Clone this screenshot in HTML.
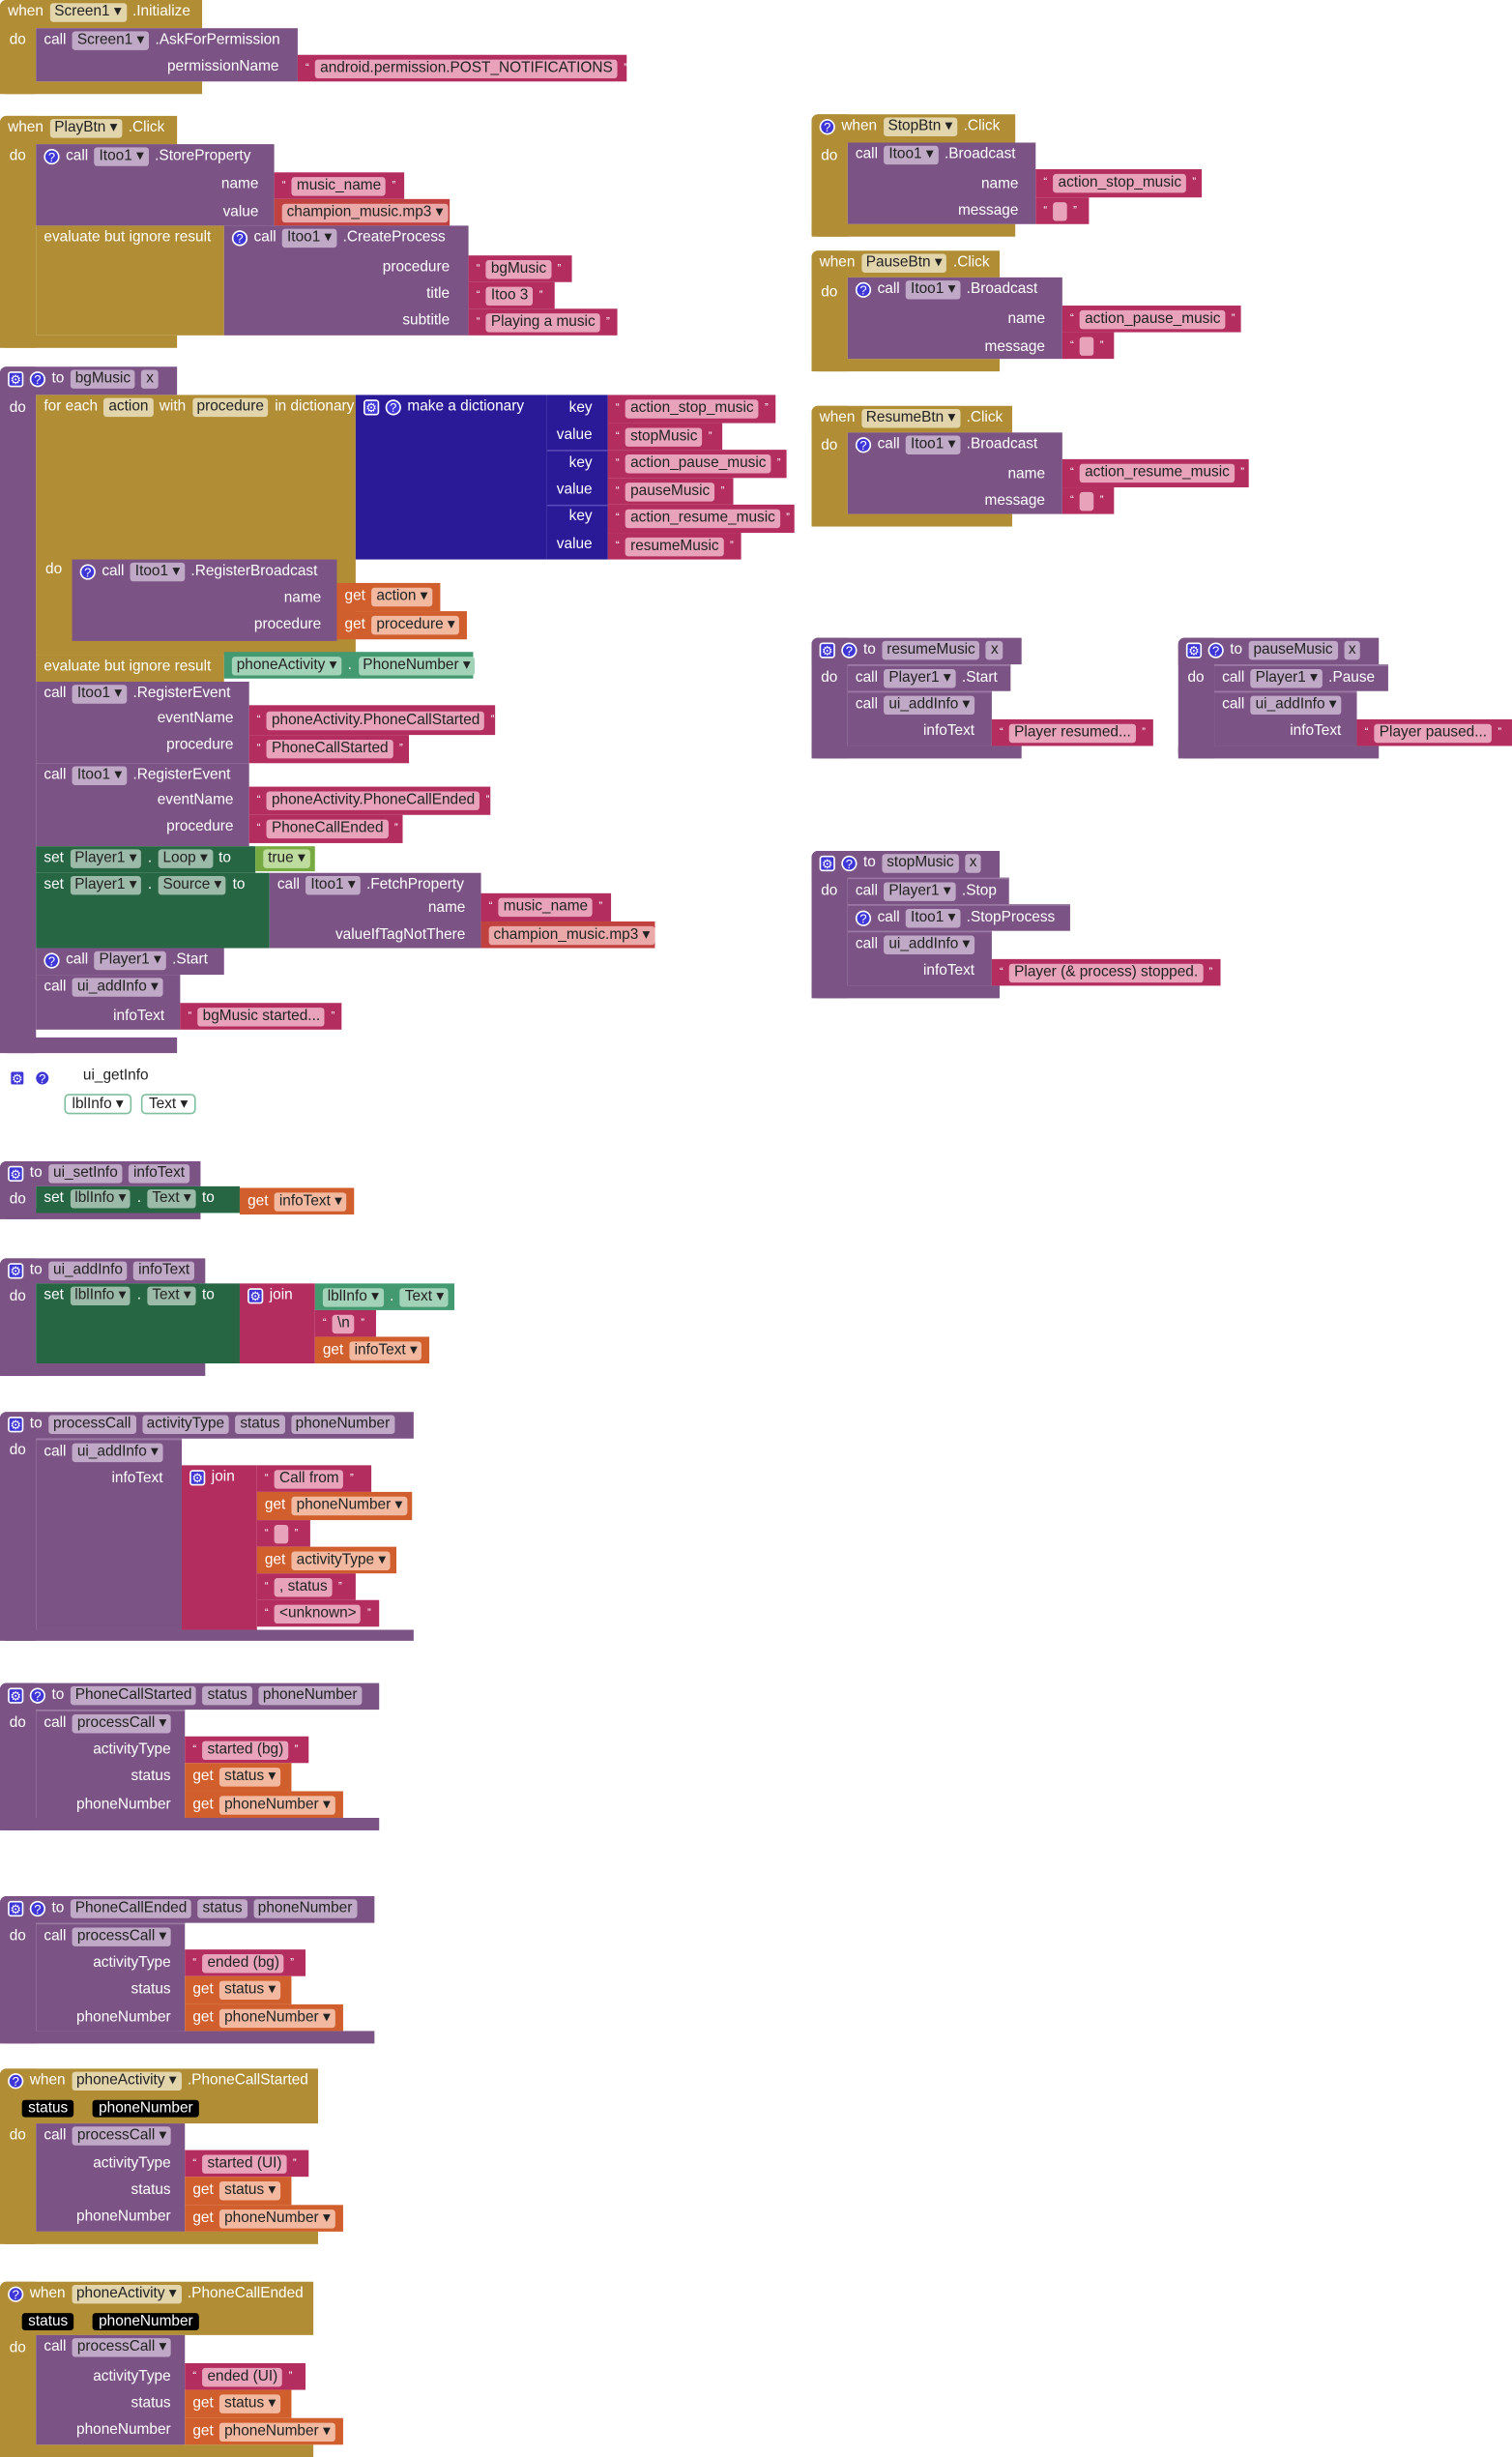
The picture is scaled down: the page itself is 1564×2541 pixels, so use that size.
<!DOCTYPE html>
<html><head><meta charset="utf-8"><style>
body{margin:0;background:#fff;width:1564px;height:2541px;overflow:hidden;position:relative}
#w{position:absolute;left:0;top:0;width:965px;height:1568px;transform:scale(1.6207);transform-origin:0 0;font-family:"Liberation Sans",sans-serif;font-size:9.5px}
.r{position:absolute;box-sizing:border-box;display:flex;align-items:flex-start;gap:4px;padding:2px 0 0 5px;color:#fff;white-space:nowrap;line-height:12px}
.m{align-items:center;padding-top:0}
.g{background:#b18e35}.p{background:#7c5385}.k{background:#b32d5e}.o{background:#d05f2d}.d{background:#266643}.c{background:#439970}.bl{background:#2b1a98}.tg{background:#77ab41}.rd{background:#c0413f}
.f{display:inline-block;padding:0 3px;border-radius:2px;height:12px;line-height:12px;color:#222;font-style:normal}
.g>.f{background:#e2d5ac}.p>.f{background:#c0a9c6}.k>.f{background:#e8a3bb}.o>.f{background:#f2b9a0}.d>.f{background:#9bbba8}.c>.f{background:#a2d2b8}.tg>.f{background:#bfdc9f}.rd>.f{background:#eaa9a8}
.t{position:absolute;color:#fff;white-space:nowrap;line-height:12px}
.gr,.qm{display:inline-block;width:10px;height:10px;background:#3f36d8;color:#fff;font-size:8px;line-height:10px;text-align:center;margin-top:1px;border:1px solid #fff;box-sizing:border-box}
.gr{border-radius:2px}.qm{border-radius:50%}
.q{font-size:7px;line-height:8px}
.bk{position:absolute;background:#000;color:#fff;padding:0 4px;line-height:11px;border-radius:2px}
.ol{position:absolute;border:1px solid #7fbf9f;border-radius:3px;padding:0 4px;line-height:11px;color:#222}
.sep{position:absolute;height:1px;background:#5848b8}
</style></head><body><div id="w">

<!-- B1 Screen1.Initialize -->
<div class="r g" style="left:0;top:0;width:23px;height:60px;border-radius:4px 0 0 4px"></div>
<div class="r g" style="left:0;top:0;width:129px;height:18px;border-radius:4px 0 0 0">when <em class="f">Screen1 ▾</em>.Initialize</div>
<div class="r g" style="left:0;top:52px;width:129px;height:8px"></div>
<span class="t" style="left:6px;top:20px">do</span>
<div class="r p" style="left:23px;top:18px;width:167px;height:34px">call <em class="f">Screen1 ▾</em>.AskForPermission</div>
<span class="t" style="right:787px;top:37px">permissionName</span>
<div class="r k m" style="left:190px;top:35px;width:210px;height:17px"><span class="q">“</span><em class="f">android.permission.POST_NOTIFICATIONS</em><span class="q">”</span></div>

<!-- B2 PlayBtn -->
<div class="r g" style="left:0;top:74px;width:23px;height:148px;border-radius:4px 0 0 4px"></div>
<div class="r g" style="left:0;top:74px;width:113px;height:18px;border-radius:4px 0 0 0">when <em class="f">PlayBtn ▾</em>.Click</div>
<div class="r g" style="left:0;top:214px;width:113px;height:8px"></div>
<span class="t" style="left:6px;top:94px">do</span>
<div class="r p" style="left:23px;top:92px;width:152px;height:52px"><span class="qm">?</span> call <em class="f">Itoo1 ▾</em>.StoreProperty</div>
<span class="t" style="right:800px;top:112px">name</span>
<span class="t" style="right:800px;top:130px">value</span>
<div class="r k m" style="left:175px;top:110px;width:83px;height:17px"><span class="q">“</span><em class="f">music_name</em><span class="q">”</span></div>
<div class="r rd m" style="left:175px;top:127px;width:112px;height:17px"><em class="f">champion_music.mp3 ▾</em></div>
<div class="r g" style="left:23px;top:144px;width:120px;height:70px">evaluate but ignore result</div>
<div class="r p" style="left:143px;top:144px;width:156px;height:70px"><span class="qm">?</span> call <em class="f">Itoo1 ▾</em>.CreateProcess</div>
<span class="t" style="right:678px;top:165px">procedure</span>
<span class="t" style="right:678px;top:182px">title</span>
<span class="t" style="right:678px;top:199px">subtitle</span>
<div class="r k m" style="left:299px;top:163px;width:66px;height:17px"><span class="q">“</span><em class="f">bgMusic</em><span class="q">”</span></div>
<div class="r k m" style="left:299px;top:180px;width:55px;height:17px"><span class="q">“</span><em class="f">Itoo 3</em><span class="q">”</span></div>
<div class="r k m" style="left:299px;top:197px;width:95px;height:17px"><span class="q">“</span><em class="f">Playing a music</em><span class="q">”</span></div>

<!-- B3 bgMusic -->
<div class="r p" style="left:0;top:234px;width:23px;height:438px;border-radius:4px 0 0 4px"></div>
<div class="r p" style="left:0;top:234px;width:113px;height:18px;border-radius:4px 0 0 0"><span class="gr">⚙</span><span class="qm">?</span>to <em class="f">bgMusic</em> <em class="f">x</em></div>
<div class="r p" style="left:0;top:662px;width:113px;height:10px"></div>
<span class="t" style="left:6px;top:255px">do</span>
<div class="r g" style="left:23px;top:252px;width:204px;height:166px">for each <em class="f">action</em>with <em class="f">procedure</em>in dictionary</div>
<div class="r bl" style="left:227px;top:252px;width:122px;height:105px"><span class="gr">⚙</span><span class="qm">?</span> make a dictionary</div>
<div class="r bl" style="left:349px;top:252px;width:39px;height:105px"></div>
<div class="sep" style="left:349px;top:287px;width:39px"></div>
<div class="sep" style="left:349px;top:322px;width:39px"></div>
<span class="t" style="right:587px;top:255px">key</span>
<span class="t" style="right:587px;top:272px">value</span>
<span class="t" style="right:587px;top:290px">key</span>
<span class="t" style="right:587px;top:307px">value</span>
<span class="t" style="right:587px;top:324px">key</span>
<span class="t" style="right:587px;top:342px">value</span>
<div class="r k m" style="left:388px;top:252px;width:107px;height:18px"><span class="q">“</span><em class="f">action_stop_music</em><span class="q">”</span></div>
<div class="r k m" style="left:388px;top:270px;width:73px;height:17px"><span class="q">“</span><em class="f">stopMusic</em><span class="q">”</span></div>
<div class="r k m" style="left:388px;top:287px;width:114px;height:18px"><span class="q">“</span><em class="f">action_pause_music</em><span class="q">”</span></div>
<div class="r k m" style="left:388px;top:305px;width:80px;height:17px"><span class="q">“</span><em class="f">pauseMusic</em><span class="q">”</span></div>
<div class="r k m" style="left:388px;top:322px;width:119px;height:18px"><span class="q">“</span><em class="f">action_resume_music</em><span class="q">”</span></div>
<div class="r k m" style="left:388px;top:340px;width:85px;height:17px"><span class="q">“</span><em class="f">resumeMusic</em><span class="q">”</span></div>
<span class="t" style="left:29px;top:358px">do</span>
<div class="r p" style="left:46px;top:357px;width:169px;height:52px"><span class="qm">?</span> call <em class="f">Itoo1 ▾</em>.RegisterBroadcast</div>
<span class="t" style="right:760px;top:376px">name</span>
<span class="t" style="right:760px;top:393px">procedure</span>
<div class="r o m" style="left:215px;top:372px;width:66px;height:18px">get <em class="f">action ▾</em></div>
<div class="r o m" style="left:215px;top:390px;width:83px;height:18px">get <em class="f">procedure ▾</em></div>
<div class="r g" style="left:23px;top:418px;width:120px;height:17px">evaluate but ignore result</div>
<div class="r c m" style="left:143px;top:416px;width:159px;height:17px"><em class="f">phoneActivity ▾</em>.<em class="f">PhoneNumber ▾</em></div>
<div class="r p" style="left:23px;top:435px;width:136px;height:52px">call <em class="f">Itoo1 ▾</em>.RegisterEvent</div>
<span class="t" style="right:816px;top:453px">eventName</span>
<span class="t" style="right:816px;top:470px">procedure</span>
<div class="r k m" style="left:159px;top:450px;width:157px;height:19px"><span class="q">“</span><em class="f">phoneActivity.PhoneCallStarted</em><span class="q">”</span></div>
<div class="r k m" style="left:159px;top:469px;width:102px;height:18px"><span class="q">“</span><em class="f">PhoneCallStarted</em><span class="q">”</span></div>
<div class="r p" style="left:23px;top:487px;width:136px;height:53px">call <em class="f">Itoo1 ▾</em>.RegisterEvent</div>
<span class="t" style="right:816px;top:505px">eventName</span>
<span class="t" style="right:816px;top:522px">procedure</span>
<div class="r k m" style="left:159px;top:502px;width:154px;height:18px"><span class="q">“</span><em class="f">phoneActivity.PhoneCallEnded</em><span class="q">”</span></div>
<div class="r k m" style="left:159px;top:520px;width:98px;height:18px"><span class="q">“</span><em class="f">PhoneCallEnded</em><span class="q">”</span></div>
<div class="r d" style="left:23px;top:540px;width:140px;height:17px">set <em class="f">Player1 ▾</em>.<em class="f">Loop ▾</em> to</div>
<div class="r tg m" style="left:163px;top:540px;width:38px;height:16px"><em class="f">true ▾</em></div>
<div class="r d" style="left:23px;top:557px;width:149px;height:48px">set <em class="f">Player1 ▾</em>.<em class="f">Source ▾</em> to</div>
<div class="r p" style="left:172px;top:557px;width:135px;height:48px">call <em class="f">Itoo1 ▾</em>.FetchProperty</div>
<span class="t" style="right:668px;top:574px">name</span>
<span class="t" style="right:668px;top:591px">valueIfTagNotThere</span>
<div class="r k m" style="left:307px;top:570px;width:83px;height:18px"><span class="q">“</span><em class="f">music_name</em><span class="q">”</span></div>
<div class="r rd m" style="left:307px;top:588px;width:111px;height:17px"><em class="f">champion_music.mp3 ▾</em></div>
<div class="r p" style="left:23px;top:605px;width:120px;height:17px"><span class="qm">?</span> call <em class="f">Player1 ▾</em>.Start</div>
<div class="r p" style="left:23px;top:622px;width:92px;height:35px">call <em class="f">ui_addInfo ▾</em></div>
<span class="t" style="right:860px;top:643px">infoText</span>
<div class="r k m" style="left:115px;top:640px;width:103px;height:17px"><span class="q">“</span><em class="f">bgMusic started...</em><span class="q">”</span></div>

<!-- StopBtn -->
<div class="r g" style="left:518px;top:73px;width:23px;height:78px;border-radius:4px 0 0 4px"></div>
<div class="r g" style="left:518px;top:73px;width:130px;height:18px;border-radius:4px 0 0 0"><span class="qm">?</span> when <em class="f">StopBtn ▾</em>.Click</div>
<div class="r g" style="left:518px;top:143px;width:130px;height:8px"></div>
<span class="t" style="left:524px;top:94px">do</span>
<div class="r p" style="left:541px;top:91px;width:120px;height:52px">call <em class="f">Itoo1 ▾</em>.Broadcast</div>
<span class="t" style="right:315px;top:112px">name</span>
<span class="t" style="right:315px;top:129px">message</span>
<div class="r k m" style="left:661px;top:108px;width:106px;height:18px"><span class="q">“</span><em class="f">action_stop_music</em><span class="q">”</span></div>
<div class="r k m" style="left:661px;top:126px;width:34px;height:17px"><span class="q">“</span><em class="f">&nbsp;</em><span class="q">”</span></div>

<!-- PauseBtn -->
<div class="r g" style="left:518px;top:160px;width:23px;height:77px;border-radius:4px 0 0 4px"></div>
<div class="r g" style="left:518px;top:160px;width:120px;height:17px;border-radius:4px 0 0 0">when <em class="f">PauseBtn ▾</em>.Click</div>
<div class="r g" style="left:518px;top:229px;width:120px;height:8px"></div>
<span class="t" style="left:524px;top:181px">do</span>
<div class="r p" style="left:541px;top:177px;width:137px;height:52px"><span class="qm">?</span> call <em class="f">Itoo1 ▾</em>.Broadcast</div>
<span class="t" style="right:298px;top:198px">name</span>
<span class="t" style="right:298px;top:216px">message</span>
<div class="r k m" style="left:678px;top:195px;width:114px;height:17px"><span class="q">“</span><em class="f">action_pause_music</em><span class="q">”</span></div>
<div class="r k m" style="left:678px;top:212px;width:33px;height:17px"><span class="q">“</span><em class="f">&nbsp;</em><span class="q">”</span></div>

<!-- ResumeBtn -->
<div class="r g" style="left:518px;top:259px;width:23px;height:77px;border-radius:4px 0 0 4px"></div>
<div class="r g" style="left:518px;top:259px;width:128px;height:17px;border-radius:4px 0 0 0">when <em class="f">ResumeBtn ▾</em>.Click</div>
<div class="r g" style="left:518px;top:328px;width:128px;height:8px"></div>
<span class="t" style="left:524px;top:279px">do</span>
<div class="r p" style="left:541px;top:276px;width:137px;height:52px"><span class="qm">?</span> call <em class="f">Itoo1 ▾</em>.Broadcast</div>
<span class="t" style="right:298px;top:297px">name</span>
<span class="t" style="right:298px;top:314px">message</span>
<div class="r k m" style="left:678px;top:293px;width:119px;height:18px"><span class="q">“</span><em class="f">action_resume_music</em><span class="q">”</span></div>
<div class="r k m" style="left:678px;top:311px;width:33px;height:17px"><span class="q">“</span><em class="f">&nbsp;</em><span class="q">”</span></div>

<!-- resumeMusic -->
<div class="r p" style="left:518px;top:407px;width:23px;height:77px;border-radius:4px 0 0 4px"></div>
<div class="r p" style="left:518px;top:407px;width:134px;height:17px;border-radius:4px 0 0 0"><span class="gr">⚙</span><span class="qm">?</span> to <em class="f">resumeMusic</em> <em class="f">x</em></div>
<div class="r p" style="left:518px;top:476px;width:134px;height:8px"></div>
<span class="t" style="left:524px;top:427px">do</span>
<div class="r p" style="left:541px;top:424px;width:104px;height:17px;border-top:1px solid #9a7aa2">call <em class="f">Player1 ▾</em>.Start</div>
<div class="r p" style="left:541px;top:441px;width:92px;height:35px;border-top:1px solid #9a7aa2">call <em class="f">ui_addInfo ▾</em></div>
<span class="t" style="right:343px;top:461px">infoText</span>
<div class="r k m" style="left:633px;top:459px;width:103px;height:17px"><span class="q">“</span><em class="f">Player resumed...</em><span class="q">”</span></div>

<!-- pauseMusic -->
<div class="r p" style="left:752px;top:407px;width:23px;height:77px;border-radius:4px 0 0 4px"></div>
<div class="r p" style="left:752px;top:407px;width:128px;height:17px;border-radius:4px 0 0 0"><span class="gr">⚙</span><span class="qm">?</span> to <em class="f">pauseMusic</em> <em class="f">x</em></div>
<div class="r p" style="left:752px;top:476px;width:128px;height:8px"></div>
<span class="t" style="left:758px;top:427px">do</span>
<div class="r p" style="left:775px;top:424px;width:111px;height:17px;border-top:1px solid #9a7aa2">call <em class="f">Player1 ▾</em>.Pause</div>
<div class="r p" style="left:775px;top:441px;width:91px;height:35px;border-top:1px solid #9a7aa2">call <em class="f">ui_addInfo ▾</em></div>
<span class="t" style="right:109px;top:461px">infoText</span>
<div class="r k m" style="left:866px;top:459px;width:99px;height:17px"><span class="q">“</span><em class="f">Player paused...</em><span class="q">”</span></div>

<!-- stopMusic -->
<div class="r p" style="left:518px;top:543px;width:23px;height:94px;border-radius:4px 0 0 4px"></div>
<div class="r p" style="left:518px;top:543px;width:120px;height:17px;border-radius:4px 0 0 0"><span class="gr">⚙</span><span class="qm">?</span> to <em class="f">stopMusic</em> <em class="f">x</em></div>
<div class="r p" style="left:518px;top:629px;width:120px;height:8px"></div>
<span class="t" style="left:524px;top:563px">do</span>
<div class="r p" style="left:541px;top:560px;width:103px;height:17px;border-top:1px solid #9a7aa2">call <em class="f">Player1 ▾</em>.Stop</div>
<div class="r p" style="left:541px;top:577px;width:142px;height:17px;border-top:1px solid #9a7aa2"><span class="qm">?</span> call <em class="f">Itoo1 ▾</em>.StopProcess</div>
<div class="r p" style="left:541px;top:594px;width:92px;height:35px;border-top:1px solid #9a7aa2">call <em class="f">ui_addInfo ▾</em></div>
<span class="t" style="right:343px;top:614px">infoText</span>
<div class="r k m" style="left:633px;top:612px;width:146px;height:17px"><span class="q">“</span><em class="f">Player (&amp;  process) stopped.</em><span class="q">”</span></div>

<!-- ui_getInfo -->
<span class="gr" style="position:absolute;left:6px;top:682px">⚙</span>
<span class="qm" style="position:absolute;left:22px;top:682px">?</span>
<span class="t" style="left:53px;top:681px;color:#222">ui_getInfo</span>
<span class="ol" style="left:41px;top:698px">lblInfo ▾</span>
<span class="ol" style="left:90px;top:698px">Text ▾</span>

<!-- ui_setInfo -->
<div class="r p" style="left:0;top:741px;width:23px;height:37px;border-radius:4px 0 0 4px"></div>
<div class="r p" style="left:0;top:741px;width:128px;height:16px;border-radius:4px 0 0 0"><span class="gr">⚙</span>to <em class="f">ui_setInfo</em> <em class="f">infoText</em></div>
<div class="r p" style="left:0;top:771px;width:128px;height:7px"></div>
<span class="t" style="left:6px;top:760px">do</span>
<div class="r d" style="left:23px;top:757px;width:130px;height:17px">set <em class="f">lblInfo ▾</em>.<em class="f">Text ▾</em> to</div>
<div class="r o m" style="left:153px;top:758px;width:73px;height:17px">get <em class="f">infoText ▾</em></div>

<!-- ui_addInfo -->
<div class="r p" style="left:0;top:803px;width:23px;height:75px;border-radius:4px 0 0 4px"></div>
<div class="r p" style="left:0;top:803px;width:131px;height:16px;border-radius:4px 0 0 0"><span class="gr">⚙</span>to <em class="f">ui_addInfo</em> <em class="f">infoText</em></div>
<div class="r p" style="left:0;top:870px;width:131px;height:8px"></div>
<span class="t" style="left:6px;top:822px">do</span>
<div class="r d" style="left:23px;top:819px;width:130px;height:51px">set <em class="f">lblInfo ▾</em>.<em class="f">Text ▾</em> to</div>
<div class="r k" style="left:153px;top:819px;width:48px;height:51px"><span class="gr">⚙</span> join</div>
<div class="r c m" style="left:201px;top:819px;width:89px;height:17px"><em class="f">lblInfo ▾</em>.<em class="f">Text ▾</em></div>
<div class="r k m" style="left:201px;top:836px;width:39px;height:17px"><span class="q">“</span><em class="f">\n</em><span class="q">”</span></div>
<div class="r o m" style="left:201px;top:853px;width:73px;height:17px">get <em class="f">infoText ▾</em></div>

<!-- processCall -->
<div class="r p" style="left:0;top:901px;width:23px;height:146px;border-radius:4px 0 0 4px"></div>
<div class="r p" style="left:0;top:901px;width:264px;height:17px;border-radius:4px 0 0 0"><span class="gr">⚙</span>to <em class="f">processCall</em> <em class="f">activityType</em> <em class="f">status</em> <em class="f">phoneNumber</em></div>
<div class="r p" style="left:0;top:1040px;width:264px;height:7px"></div>
<span class="t" style="left:6px;top:920px">do</span>
<div class="r p" style="left:23px;top:918px;width:93px;height:122px;border-top:1px solid #9a7aa2">call <em class="f">ui_addInfo ▾</em></div>
<span class="t" style="right:861px;top:938px">infoText</span>
<div class="r k" style="left:116px;top:935px;width:48px;height:105px"><span class="gr">⚙</span> join</div>
<div class="r k m" style="left:164px;top:935px;width:73px;height:17px"><span class="q">“</span><em class="f">Call from</em><span class="q">”</span></div>
<div class="r o m" style="left:164px;top:952px;width:99px;height:18px">get <em class="f">phoneNumber ▾</em></div>
<div class="r k m" style="left:164px;top:970px;width:34px;height:17px"><span class="q">“</span><em class="f">&nbsp;</em><span class="q">”</span></div>
<div class="r o m" style="left:164px;top:987px;width:89px;height:17px">get <em class="f">activityType ▾</em></div>
<div class="r k m" style="left:164px;top:1004px;width:63px;height:17px"><span class="q">“</span><em class="f">, status</em><span class="q">”</span></div>
<div class="r k m" style="left:164px;top:1021px;width:78px;height:17px"><span class="q">“</span><em class="f">&lt;unknown&gt;</em><span class="q">”</span></div>

<!-- PhoneCallStarted proc -->
<div class="r p" style="left:0;top:1074px;width:23px;height:94px;border-radius:4px 0 0 4px"></div>
<div class="r p" style="left:0;top:1074px;width:242px;height:17px;border-radius:4px 0 0 0"><span class="gr">⚙</span><span class="qm">?</span> to <em class="f">PhoneCallStarted</em> <em class="f">status</em> <em class="f">phoneNumber</em></div>
<div class="r p" style="left:0;top:1160px;width:242px;height:8px"></div>
<span class="t" style="left:6px;top:1094px">do</span>
<div class="r p" style="left:23px;top:1091px;width:95px;height:69px;border-top:1px solid #9a7aa2">call <em class="f">processCall ▾</em></div>
<span class="t" style="right:856px;top:1111px">activityType</span>
<span class="t" style="right:856px;top:1128px">status</span>
<span class="t" style="right:856px;top:1146px">phoneNumber</span>
<div class="r k m" style="left:118px;top:1108px;width:79px;height:17px"><span class="q">“</span><em class="f">started (bg)</em><span class="q">”</span></div>
<div class="r o m" style="left:118px;top:1125px;width:68px;height:18px">get <em class="f">status ▾</em></div>
<div class="r o m" style="left:118px;top:1143px;width:101px;height:17px">get <em class="f">phoneNumber ▾</em></div>

<!-- PhoneCallEnded proc -->
<div class="r p" style="left:0;top:1210px;width:23px;height:94px;border-radius:4px 0 0 4px"></div>
<div class="r p" style="left:0;top:1210px;width:239px;height:17px;border-radius:4px 0 0 0"><span class="gr">⚙</span><span class="qm">?</span> to <em class="f">PhoneCallEnded</em> <em class="f">status</em> <em class="f">phoneNumber</em></div>
<div class="r p" style="left:0;top:1296px;width:239px;height:8px"></div>
<span class="t" style="left:6px;top:1230px">do</span>
<div class="r p" style="left:23px;top:1227px;width:95px;height:69px;border-top:1px solid #9a7aa2">call <em class="f">processCall ▾</em></div>
<span class="t" style="right:856px;top:1247px">activityType</span>
<span class="t" style="right:856px;top:1264px">status</span>
<span class="t" style="right:856px;top:1282px">phoneNumber</span>
<div class="r k m" style="left:118px;top:1244px;width:77px;height:17px"><span class="q">“</span><em class="f">ended (bg)</em><span class="q">”</span></div>
<div class="r o m" style="left:118px;top:1261px;width:68px;height:18px">get <em class="f">status ▾</em></div>
<div class="r o m" style="left:118px;top:1279px;width:101px;height:17px">get <em class="f">phoneNumber ▾</em></div>

<!-- when PhoneCallStarted -->
<div class="r g" style="left:0;top:1320px;width:23px;height:112px;border-radius:4px 0 0 4px"></div>
<div class="r g" style="left:0;top:1320px;width:203px;height:35px;border-radius:4px 0 0 0"><span class="qm">?</span> when <em class="f">phoneActivity ▾</em>.PhoneCallStarted</div>
<span class="bk" style="left:14px;top:1340px">status</span>
<span class="bk" style="left:59px;top:1340px">phoneNumber</span>
<div class="r g" style="left:0;top:1424px;width:203px;height:8px"></div>
<span class="t" style="left:6px;top:1357px">do</span>
<div class="r p" style="left:23px;top:1355px;width:95px;height:69px">call <em class="f">processCall ▾</em></div>
<span class="t" style="right:856px;top:1375px">activityType</span>
<span class="t" style="right:856px;top:1392px">status</span>
<span class="t" style="right:856px;top:1409px">phoneNumber</span>
<div class="r k m" style="left:118px;top:1372px;width:79px;height:17px"><span class="q">“</span><em class="f">started (UI)</em><span class="q">”</span></div>
<div class="r o m" style="left:118px;top:1389px;width:68px;height:18px">get <em class="f">status ▾</em></div>
<div class="r o m" style="left:118px;top:1407px;width:101px;height:17px">get <em class="f">phoneNumber ▾</em></div>

<!-- when PhoneCallEnded -->
<div class="r g" style="left:0;top:1456px;width:23px;height:112px;border-radius:4px 0 0 4px"></div>
<div class="r g" style="left:0;top:1456px;width:200px;height:34px;border-radius:4px 0 0 0"><span class="qm">?</span> when <em class="f">phoneActivity ▾</em>.PhoneCallEnded</div>
<span class="bk" style="left:14px;top:1476px">status</span>
<span class="bk" style="left:59px;top:1476px">phoneNumber</span>
<div class="r g" style="left:0;top:1560px;width:200px;height:8px"></div>
<span class="t" style="left:6px;top:1493px">do</span>
<div class="r p" style="left:23px;top:1490px;width:95px;height:70px">call <em class="f">processCall ▾</em></div>
<span class="t" style="right:856px;top:1511px">activityType</span>
<span class="t" style="right:856px;top:1528px">status</span>
<span class="t" style="right:856px;top:1545px">phoneNumber</span>
<div class="r k m" style="left:118px;top:1508px;width:77px;height:17px"><span class="q">“</span><em class="f">ended (UI)</em><span class="q">”</span></div>
<div class="r o m" style="left:118px;top:1525px;width:68px;height:18px">get <em class="f">status ▾</em></div>
<div class="r o m" style="left:118px;top:1543px;width:101px;height:17px">get <em class="f">phoneNumber ▾</em></div>

</div></body></html>
